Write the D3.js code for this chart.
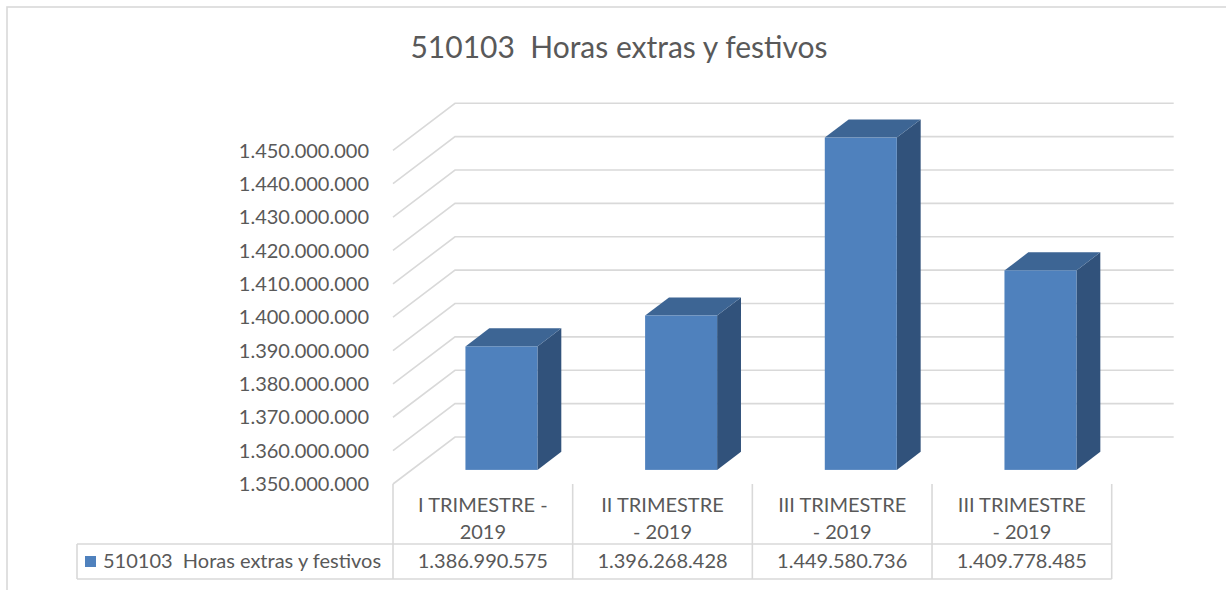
<!DOCTYPE html>
<html>
<head>
<meta charset="utf-8">
<script src="https://cdn.jsdelivr.net/npm/d3@7"></script>
<style>
  html, body { margin: 0; padding: 0; background: #ffffff; }
  svg { display: block; font-family: Lato, "Open Sans", "Liberation Sans", sans-serif; }
</style>
</head>
<body>
<svg id="chart" width="1226" height="590"></svg>
<script>
// ---- data ----
const title = "510103  Horas extras y festivos";
const seriesName = "510103  Horas extras y festivos";
const categories = ["I TRIMESTRE - 2019", "II TRIMESTRE - 2019", "III TRIMESTRE - 2019", "III TRIMESTRE - 2019"];
const categoryLines = [["I TRIMESTRE -", "2019"], ["II TRIMESTRE", "- 2019"], ["III TRIMESTRE", "- 2019"], ["III TRIMESTRE", "- 2019"]];
const values = [1386990575, 1396268428, 1449580736, 1409778485];
const yTicks = [1350000000, 1360000000, 1370000000, 1380000000, 1390000000, 1400000000, 1410000000, 1420000000, 1430000000, 1440000000, 1450000000];

// ---- formatting ----
const loc = d3.formatLocale({ decimal: ",", thousands: ".", grouping: [3], currency: ["", ""] });
const fmt = loc.format(",.0f");

// ---- geometry ----
const svg = d3.select("#chart");
const textColor = "#595959";
const gridColor = "#d9d9d9";
const depth = { dx: 62, dy: -47 };
const barDepthStart = 0.3, barDepthEnd = 0.685;

const x = d3.scaleBand().domain(d3.range(categories.length)).range([393, 1111.7]).paddingInner(0).paddingOuter(0);
const y = d3.scaleLinear().domain([1350000000, 1450000000]).range([484, 150.3]);
const barWidth = 72;

// outer border
svg.append("rect").attr("x", 7).attr("y", 7).attr("width", 1240).attr("height", 600)
  .attr("fill", "none").attr("stroke", gridColor).attr("stroke-width", 1.6);

// title
svg.append("text").attr("x", 619).attr("y", 58).attr("text-anchor", "middle")
  .attr("fill", textColor).attr("font-size", 30).attr("xml:space", "preserve")
  .style("white-space", "pre").text(title);

// gridlines (side wall + back wall)
const x0 = x.range()[0];
const xEnd = x.range()[1] + depth.dx;
svg.append("g").selectAll("path").data(yTicks).join("path")
  .attr("d", d => {
    const yf = y(d);
    return `M${x0},${yf}L${x0 + depth.dx},${yf + depth.dy}L${xEnd},${yf + depth.dy}`;
  })
  .attr("fill", "none").attr("stroke", gridColor).attr("stroke-width", 1.6);

// y axis labels
svg.append("g").selectAll("text").data(yTicks).join("text")
  .attr("x", 369).attr("y", d => y(d)).attr("dy", "0.36em").attr("text-anchor", "end")
  .attr("fill", textColor).attr("font-size", 20).text(d => fmt(d));

// bars (3D)
const fx = barDepthStart * depth.dx, fy = barDepthStart * depth.dy;
const bdx = (barDepthEnd - barDepthStart) * depth.dx, bdy = (barDepthEnd - barDepthStart) * depth.dy;
const base = y.domain()[0];
const bars = svg.append("g").selectAll("g").data(values).join("g");
bars.each(function (v, i) {
  const g = d3.select(this);
  const cx = x(i) + x.bandwidth() / 2 + fx;
  const xl = cx - barWidth / 2, xr = cx + barWidth / 2;
  const yt = y(v) + fy, yb = y(base) + fy;
  // side
  g.append("path").attr("d", `M${xr},${yt}L${xr + bdx},${yt + bdy}L${xr + bdx},${yb + bdy}L${xr},${yb}Z`)
    .attr("fill", "#31527b");
  // top
  g.append("path").attr("d", `M${xl},${yt}L${xl + bdx},${yt + bdy}L${xr + bdx},${yt + bdy}L${xr},${yt}Z`)
    .attr("fill", "#3d6594");
  // front
  g.append("rect").attr("x", xl).attr("y", yt).attr("width", barWidth).attr("height", yb - yt)
    .attr("fill", "#4f81bd");
});

// data table
const tTop = 484, tMid = 544, tBot = 579, legendLeft = 77;
const table = svg.append("g").attr("stroke", gridColor).attr("stroke-width", 1.6);
const colEdges = d3.range(categories.length + 1).map(i => i < categories.length ? x(i) : x.range()[1]);
colEdges.forEach(cx => {
  table.append("line").attr("x1", cx).attr("x2", cx).attr("y1", tTop).attr("y2", tBot);
});
table.append("line").attr("x1", legendLeft).attr("x2", x.range()[1]).attr("y1", tMid).attr("y2", tMid);
table.append("line").attr("x1", legendLeft).attr("x2", x.range()[1]).attr("y1", tBot).attr("y2", tBot);
table.append("line").attr("x1", legendLeft).attr("x2", legendLeft).attr("y1", tMid).attr("y2", tBot);

// header labels
const hdr = svg.append("g").selectAll("text").data(categoryLines).join("text")
  .attr("text-anchor", "middle").attr("fill", textColor).attr("font-size", 20);
hdr.each(function (lines, i) {
  const t = d3.select(this);
  lines.forEach((ln, k) => {
    t.append("tspan").attr("x", x(i) + x.bandwidth() / 2).attr("y", 505 + k * 26.7).attr("dy", "0.36em").text(ln);
  });
});

// values row
svg.append("g").selectAll("text").data(values).join("text")
  .attr("x", (d, i) => x(i) + x.bandwidth() / 2).attr("y", 561).attr("dy", "0.36em")
  .attr("text-anchor", "middle").attr("fill", textColor).attr("font-size", 20).text(d => fmt(d));

// legend key
svg.append("rect").attr("x", 85).attr("y", 556).attr("width", 11).attr("height", 11).attr("fill", "#4f81bd");
svg.append("text").attr("x", 103).attr("y", 561).attr("dy", "0.36em").attr("fill", textColor)
  .attr("font-size", 20).style("white-space", "pre").text(seriesName);
</script>
</body>
</html>
